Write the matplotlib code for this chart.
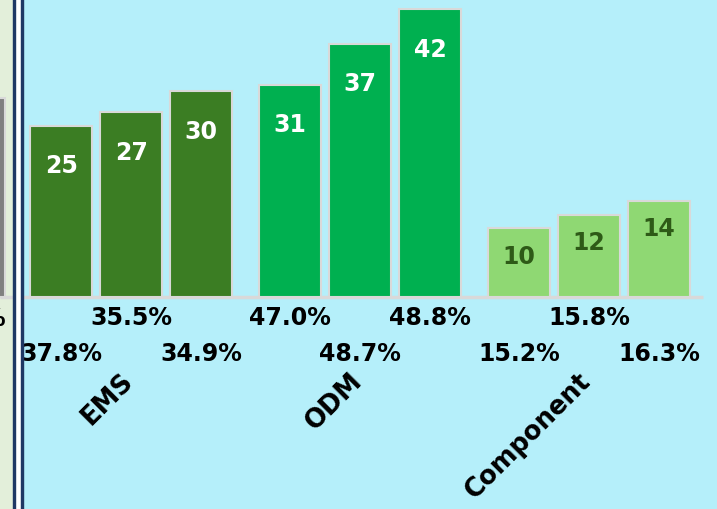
import matplotlib
matplotlib.use('Agg')
import matplotlib.pyplot as plt
from matplotlib.patches import Rectangle

groups = ['EMS', 'ODM', 'Component']
values = [[25, 27, 30], [31, 37, 42], [10, 12, 14]]
shares = [['37.8%', '35.5%', '34.9%'],
          ['47.0%', '48.7%', '48.8%'],
          ['15.2%', '15.8%', '16.3%']]
bar_colors = ['#3B7D23', '#00B050', '#8FD873']
text_colors = ['white', 'white', '#2E5A17']
prev_value = 29  # grey bar of the neighbouring panel, cut off at the left edge

W, H = 717, 510
fig = plt.figure(figsize=(W / 100, H / 100), dpi=100)
ax = fig.add_axes([0, 0, 1, 1])
ax.set_xlim(-0.876, 9.367)
ax.set_ylim(-30.95, 43.5)
ax.axis('off')


def fx(p):
    return p / W


# panel backgrounds and the double divider line
ax.add_patch(Rectangle((0, 0), fx(13), 1, transform=ax.transAxes, color='#E3EFDA', zorder=0))
ax.add_patch(Rectangle((fx(23), 0), 1, 1, transform=ax.transAxes, color='#B5EFFA', zorder=0))
ax.add_patch(Rectangle((fx(15), 0), fx(6), 1, transform=ax.transAxes, color='white', zorder=5))
ax.add_patch(Rectangle((fx(13), 0), fx(2), 1, transform=ax.transAxes, color='#1F3864', zorder=5))
ax.add_patch(Rectangle((fx(21), 0), fx(2), 1, transform=ax.transAxes, color='#1F3864', zorder=5))

step = 3.27
width = 0.886
positions = [[g * step + i for i in range(3)] for g in range(len(groups))]
last = positions[-1][-1]

ax.plot([ax.get_xlim()[0], last + width / 2 + 0.19], [0, 0], color='#D9D9D9', lw=2.5, zorder=1,
        solid_capstyle='butt')

# neighbouring grey bar (only its right edge is visible)
prev_x = positions[0][0] - 1.25
ax.bar(prev_x, prev_value, width=width, color='#808080', edgecolor='#D9D9D9', lw=1.5, zorder=2)
ax.text(prev_x + 0.44, -3.0, '%', ha='right', va='center', fontsize=17, fontweight='bold')

k = 0
for g, name in enumerate(groups):
    xs = positions[g]
    ax.bar(xs, values[g], width=width, color=bar_colors[g], edgecolor='#D9D9D9', lw=1.5, zorder=2)
    for x, v, s in zip(xs, values[g], shares[g]):
        off = 4.0 if g == 2 else 5.8
        ax.text(x, v - off, str(v), ha='center', va='center', color=text_colors[g],
                fontsize=17, fontweight='bold', zorder=3)
        row_y = -8.2 if k % 2 == 0 else -2.9
        ax.text(x, row_y, s, ha='center', va='center', fontsize=17, fontweight='bold', zorder=3)
        k += 1
    ax.text(xs[1] + 0.1, -10.2, name, rotation=45, ha='right', va='top',
            fontsize=18.5, fontweight='bold', zorder=3)

plt.savefig('out.png', dpi=100)
